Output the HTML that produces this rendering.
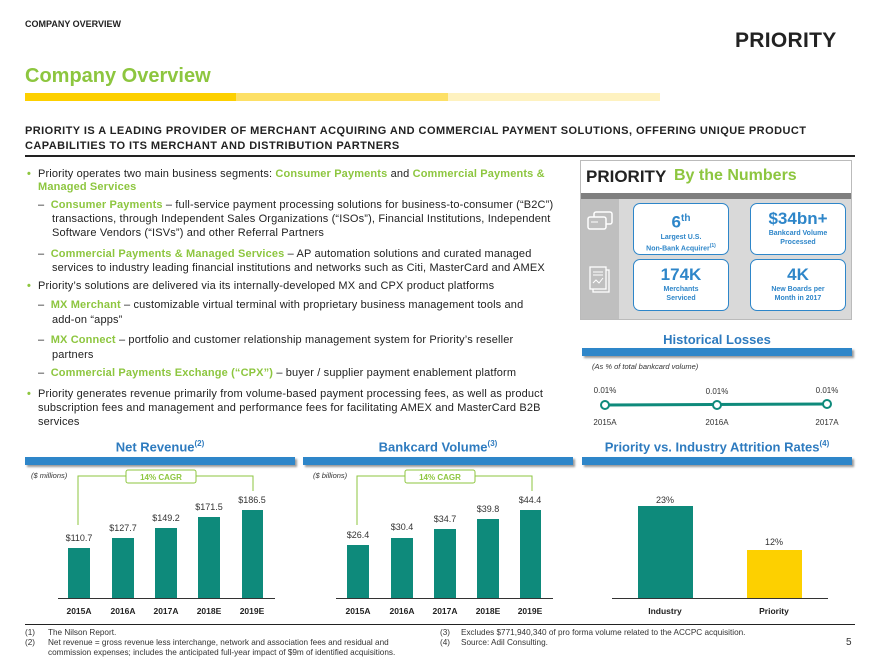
<!DOCTYPE html>
<html><head><meta charset="utf-8">
<style>
*{margin:0;padding:0;box-sizing:border-box}
body{width:877px;height:660px;background:#fff;position:relative;overflow:hidden;font-family:"Liberation Sans",Arial,sans-serif;color:#222}
.a{position:absolute;white-space:nowrap}
.b{font-size:11px;line-height:12px;color:#222;letter-spacing:0.15px}
.g{color:#8dc63f;font-weight:bold}
.bt{font-size:13px;color:#2e7bbf;font-weight:bold;text-align:center}
.bar{position:absolute;background:#2e86c9;height:8px;box-shadow:2px 2px 2px #999}
.col{position:absolute;background:#0e8a7b}
.vl{position:absolute;font-size:9px;text-align:center;width:50px;color:#333}
.xl{position:absolute;font-size:8.5px;font-weight:bold;text-align:center;width:50px;color:#222}
.box{position:absolute;background:#fff;border:1.5px solid #2e86c9;border-radius:7px;text-align:center;color:#2e86c9;font-weight:bold}
.box .n{font-size:17px;line-height:20px;margin-top:5px}
.box .s{font-size:7px;line-height:9px}
.fn{font-size:8.2px;line-height:10px;color:#333}
</style></head><body>
<div class="a" style="left:25px;top:19px;font-size:9px;font-weight:bold">COMPANY OVERVIEW</div>
<div class="a" style="left:735px;top:29px;font-size:21px;font-weight:bold;letter-spacing:0.3px;color:#222">PRIORITY</div>
<div class="a" style="left:25px;top:65px;font-size:20px;font-weight:bold;color:#8dc63f">Company Overview</div>
<div class="a" style="left:25px;top:93px;width:211px;height:8px;background:#fdd000"></div>
<div class="a" style="left:236px;top:93px;width:212px;height:8px;background:#fde066"></div>
<div class="a" style="left:448px;top:93px;width:212px;height:8px;background:#fef2c0"></div>
<div class="a" style="left:25px;top:124px;font-size:11px;font-weight:bold;line-height:14.5px;letter-spacing:0.45px">PRIORITY IS A LEADING PROVIDER OF MERCHANT ACQUIRING AND COMMERCIAL PAYMENT SOLUTIONS, OFFERING UNIQUE PRODUCT<br>CAPABILITIES TO ITS MERCHANT AND DISTRIBUTION PARTNERS</div>
<div class="a" style="left:25px;top:155px;width:830px;height:1.5px;background:#222"></div>

<div class="a b" style="left:27px;top:168px"><span class="g">•</span></div>
<div class="a b" style="left:38px;top:168px">Priority operates two main business segments: <span class="g">Consumer Payments</span> and <span class="g">Commercial Payments &amp;</span></div>
<div class="a b" style="left:38px;top:181px"><span class="g">Managed Services</span></div>
<div class="a b" style="left:38px;top:199px">–&nbsp; <span class="g">Consumer Payments</span> – full-service payment processing solutions for business-to-consumer (“B2C”)</div>
<div class="a b" style="left:52px;top:213px">transactions, through Independent Sales Organizations (“ISOs”), Financial Institutions, Independent</div>
<div class="a b" style="left:52px;top:227px">Software Vendors (“ISVs”) and other Referral Partners</div>
<div class="a b" style="left:38px;top:248px">–&nbsp; <span class="g">Commercial Payments &amp; Managed Services</span> – AP automation solutions and curated managed</div>
<div class="a b" style="left:52px;top:262px">services to industry leading financial institutions and networks such as Citi, MasterCard and AMEX</div>
<div class="a b" style="left:27px;top:280px"><span class="g">•</span></div>
<div class="a b" style="left:38px;top:280px">Priority’s solutions are delivered via its internally-developed MX and CPX product platforms</div>
<div class="a b" style="left:38px;top:299px">–&nbsp; <span class="g">MX Merchant</span> – customizable virtual terminal with proprietary business management tools and</div>
<div class="a b" style="left:52px;top:314px">add-on “apps”</div>
<div class="a b" style="left:38px;top:334px">–&nbsp; <span class="g">MX Connect</span> – portfolio and customer relationship management system for Priority’s reseller</div>
<div class="a b" style="left:52px;top:349px">partners</div>
<div class="a b" style="left:38px;top:367px">–&nbsp; <span class="g">Commercial Payments Exchange (“CPX”)</span> – buyer / supplier payment enablement platform</div>
<div class="a b" style="left:27px;top:388px"><span class="g">•</span></div>
<div class="a b" style="left:38px;top:388px">Priority generates revenue primarily from volume-based payment processing fees, as well as product</div>
<div class="a b" style="left:38px;top:402px">subscription fees and management and performance fees for facilitating AMEX and MasterCard B2B</div>
<div class="a b" style="left:38px;top:416px">services</div>

<!-- By the numbers -->
<div class="a" style="left:580px;top:160px;width:272px;height:160px;border:1px solid #bbb;background:#d9d9d9"></div>
<div class="a" style="left:581px;top:161px;width:270px;height:32px;background:#fff"></div>
<div class="a" style="left:586px;top:167px;font-size:17px;font-weight:bold;color:#222">PRIORITY</div>
<div class="a" style="left:674px;top:167px;font-size:16px;font-weight:bold;color:#8dc63f">By the Numbers</div>
<div class="a" style="left:581px;top:193px;width:270px;height:6px;background:#7f7f7f"></div>
<div class="a" style="left:581px;top:199px;width:38px;height:120px;background:#bfbfbf"></div>
<svg class="a" style="left:586px;top:210px" width="28" height="22"><rect x="8" y="2" width="18" height="12" rx="2" fill="none" stroke="#fff" stroke-width="1.5"/><rect x="2" y="7" width="18" height="12" rx="2" fill="#bfbfbf" stroke="#fff" stroke-width="1.5"/><line x1="5" y1="12" x2="12" y2="12" stroke="#fff"/></svg>
<svg class="a" style="left:588px;top:266px" width="24" height="28"><rect x="5" y="4" width="16" height="22" fill="none" stroke="#fff" stroke-width="1.3"/><rect x="2" y="1" width="16" height="22" fill="#bfbfbf" stroke="#fff" stroke-width="1.3"/><polyline points="5,17 8,14 11,17 15,12" fill="none" stroke="#fff"/><line x1="5" y1="6" x2="15" y2="6" stroke="#fff"/><line x1="5" y1="9" x2="15" y2="9" stroke="#fff"/></svg>
<div class="box" style="left:633px;top:203px;width:96px;height:52px"><div class="n">6<sup style="font-size:10px">th</sup></div><div class="s">Largest U.S.<br>Non-Bank Acquirer<sup style="font-size:5px">(1)</sup></div></div>
<div class="box" style="left:750px;top:203px;width:96px;height:52px"><div class="n">$34bn+</div><div class="s">Bankcard Volume<br>Processed</div></div>
<div class="box" style="left:633px;top:259px;width:96px;height:52px"><div class="n">174K</div><div class="s">Merchants<br>Serviced</div></div>
<div class="box" style="left:750px;top:259px;width:96px;height:52px"><div class="n">4K</div><div class="s">New Boards per<br>Month in 2017</div></div>

<!-- Historical losses -->
<div class="a bt" style="left:582px;top:332px;width:270px">Historical Losses</div>
<div class="bar" style="left:582px;top:348px;width:270px"></div>
<div class="a" style="left:592px;top:362px;font-size:7.5px;font-style:italic;color:#333">(As % of total bankcard volume)</div>
<svg class="a" style="left:590px;top:380px" width="255" height="50">
<line x1="15" y1="25" x2="237" y2="24" stroke="#0e8a7b" stroke-width="3"/>
<circle cx="15" cy="25" r="4" fill="#fff" stroke="#0e8a7b" stroke-width="2"/>
<circle cx="127" cy="25" r="4" fill="#fff" stroke="#0e8a7b" stroke-width="2"/>
<circle cx="237" cy="24" r="4" fill="#fff" stroke="#0e8a7b" stroke-width="2"/>
<g font-size="8" fill="#333" text-anchor="middle" font-family="Liberation Sans">
<text x="15" y="13">0.01%</text><text x="127" y="14">0.01%</text><text x="237" y="13">0.01%</text>
<text x="15" y="45">2015A</text><text x="127" y="45">2016A</text><text x="237" y="45">2017A</text></g>
</svg>

<!-- Net revenue -->
<div class="a bt" style="left:25px;top:439px;width:270px">Net Revenue<sup style="font-size:8px">(2)</sup></div>
<div class="bar" style="left:25px;top:457px;width:270px"></div>
<div class="a" style="left:31px;top:471px;font-size:7.5px;font-style:italic;color:#333">($ millions)</div>
<svg class="a" style="left:0;top:465px" width="300" height="60"><polyline points="78,60 78,11 126,11" fill="none" stroke="#8dc63f"/><polyline points="196,11 253,11 253,26" fill="none" stroke="#8dc63f"/><rect x="126" y="5" width="70" height="13" rx="2" fill="#fff" stroke="#8dc63f"/><text x="161" y="15" font-size="8" font-weight="bold" fill="#8dc63f" text-anchor="middle" font-family="Liberation Sans">14% CAGR</text></svg>
<div class="col" style="left:68px;top:548px;width:22px;height:50px"></div>
<div class="col" style="left:112px;top:538px;width:22px;height:60px"></div>
<div class="col" style="left:155px;top:528px;width:22px;height:70px"></div>
<div class="col" style="left:198px;top:517px;width:22px;height:81px"></div>
<div class="col" style="left:242px;top:510px;width:21px;height:88px"></div>
<div class="vl" style="left:54px;top:533px">$110.7</div>
<div class="vl" style="left:98px;top:523px">$127.7</div>
<div class="vl" style="left:141px;top:513px">$149.2</div>
<div class="vl" style="left:184px;top:502px">$171.5</div>
<div class="vl" style="left:227px;top:495px">$186.5</div>
<div class="a" style="left:58px;top:598px;width:217px;height:1px;background:#333"></div>
<div class="xl" style="left:54px;top:606px">2015A</div><div class="xl" style="left:98px;top:606px">2016A</div><div class="xl" style="left:141px;top:606px">2017A</div><div class="xl" style="left:184px;top:606px">2018E</div><div class="xl" style="left:227px;top:606px">2019E</div>

<!-- Bankcard -->
<div class="a bt" style="left:303px;top:439px;width:270px">Bankcard Volume<sup style="font-size:8px">(3)</sup></div>
<div class="bar" style="left:303px;top:457px;width:270px"></div>
<div class="a" style="left:313px;top:471px;font-size:7.5px;font-style:italic;color:#333">($ billions)</div>
<svg class="a" style="left:279px;top:465px" width="300" height="60"><polyline points="78,60 78,11 126,11" fill="none" stroke="#8dc63f"/><polyline points="196,11 253,11 253,26" fill="none" stroke="#8dc63f"/><rect x="126" y="5" width="70" height="13" rx="2" fill="#fff" stroke="#8dc63f"/><text x="161" y="15" font-size="8" font-weight="bold" fill="#8dc63f" text-anchor="middle" font-family="Liberation Sans">14% CAGR</text></svg>
<div class="col" style="left:347px;top:545px;width:22px;height:53px"></div>
<div class="col" style="left:391px;top:538px;width:22px;height:60px"></div>
<div class="col" style="left:434px;top:529px;width:22px;height:69px"></div>
<div class="col" style="left:477px;top:519px;width:22px;height:79px"></div>
<div class="col" style="left:520px;top:510px;width:21px;height:88px"></div>
<div class="vl" style="left:333px;top:530px">$26.4</div>
<div class="vl" style="left:377px;top:522px">$30.4</div>
<div class="vl" style="left:420px;top:514px">$34.7</div>
<div class="vl" style="left:463px;top:504px">$39.8</div>
<div class="vl" style="left:505px;top:495px">$44.4</div>
<div class="a" style="left:336px;top:598px;width:217px;height:1px;background:#333"></div>
<div class="xl" style="left:333px;top:606px">2015A</div><div class="xl" style="left:377px;top:606px">2016A</div><div class="xl" style="left:420px;top:606px">2017A</div><div class="xl" style="left:463px;top:606px">2018E</div><div class="xl" style="left:505px;top:606px">2019E</div>

<!-- Attrition -->
<div class="a bt" style="left:582px;top:439px;width:270px">Priority vs. Industry Attrition Rates<sup style="font-size:8px">(4)</sup></div>
<div class="bar" style="left:582px;top:457px;width:270px"></div>
<div class="col" style="left:638px;top:506px;width:55px;height:92px"></div>
<div class="col" style="left:747px;top:550px;width:55px;height:48px;background:#fdd000"></div>
<div class="vl" style="left:640px;top:495px">23%</div>
<div class="vl" style="left:749px;top:537px">12%</div>
<div class="a" style="left:612px;top:598px;width:216px;height:1px;background:#333"></div>
<div class="xl" style="left:640px;top:606px;width:50px">Industry</div>
<div class="xl" style="left:749px;top:606px">Priority</div>

<!-- Footnotes -->
<div class="a" style="left:25px;top:624px;width:830px;height:1px;background:#222"></div>
<div class="a fn" style="left:25px;top:628px">(1)<br>(2)</div>
<div class="a fn" style="left:48px;top:628px">The Nilson Report.<br>Net revenue = gross revenue less interchange, network and association fees and residual and<br>commission expenses; includes the anticipated full-year impact of $9m of identified acquisitions.</div>
<div class="a fn" style="left:440px;top:628px">(3)<br>(4)</div>
<div class="a fn" style="left:461px;top:628px">Excludes $771,940,340 of pro forma volume related to the ACCPC acquisition.<br>Source: Adil Consulting.</div>
<div class="a" style="left:846px;top:637px;font-size:10px;color:#333">5</div>
</body></html>
